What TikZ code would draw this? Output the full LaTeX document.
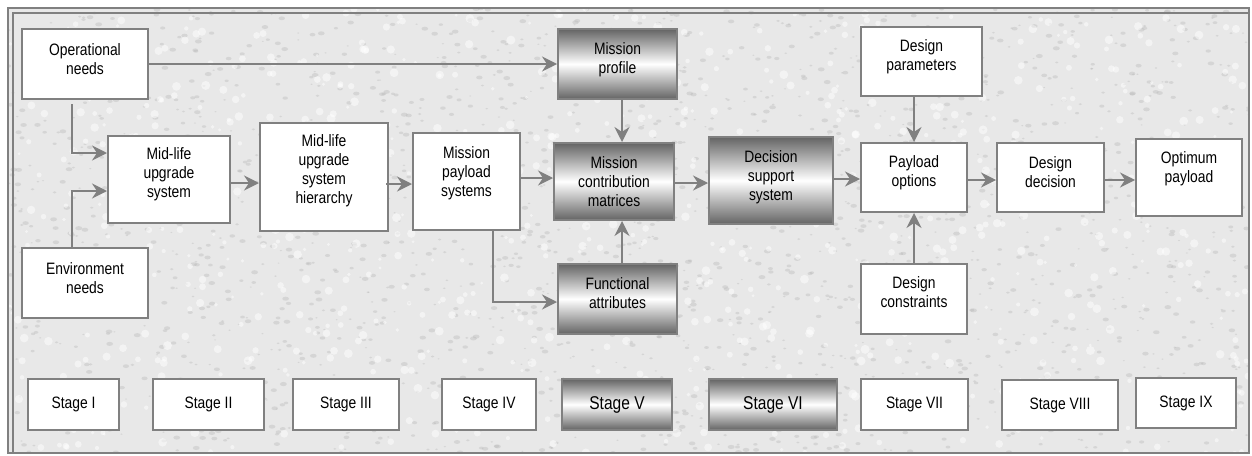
\documentclass[tikz,border=0pt]{standalone}
\usepackage{fontspec}
\setmainfont{Liberation Sans}[FakeStretch=0.84]
\usetikzlibrary{arrows.meta}
\definecolor{ln}{RGB}{128,128,128}
\definecolor{bg}{RGB}{232,232,232}
\definecolor{speck}{RGB}{180,180,180}
\definecolor{shd}{RGB}{100,100,100}
\begin{document}
\begin{tikzpicture}[x=1pt,y=-1pt,
  box/.style={draw=ln, line width=2pt, fill=white, rectangle, inner sep=0pt},
  sbox/.style={draw=ln, line width=2pt, rectangle, inner sep=0pt, top color=shd, bottom color=shd, middle color=white},
  txt/.style={align=center, font=\fontsize{16.5}{19}\selectfont, inner sep=0pt},
  stxt/.style={font=\fontsize{16.5}{19}\selectfont},
  btxt/.style={font=\fontsize{18.5}{21}\selectfont},
  arr/.style={draw=ln, line width=2pt, -{Stealth[length=15pt,width=15pt,inset=5pt]}},
  frame/.style={draw=ln}]
\useasboundingbox (0,0) rectangle (1252,455);
\fill[white] (0,0) rectangle (1252,455);
\fill[bg] (8,8) rectangle (1249,453);
% paper texture
\pgfmathsetseed{7}
\begin{scope}
\clip (8,8) rectangle (1249,453);
\foreach \i in {1,...,2200}{
  \pgfmathsetmacro{\px}{8+1241*rnd}
  \pgfmathsetmacro{\py}{8+445*rnd}
  \pgfmathsetmacro{\pr}{1+2.5*rnd}
  \fill[speck, opacity=0.35] (\px,\py) ellipse [x radius=\pr, y radius=0.6*\pr];
}
\foreach \i in {1,...,900}{
  \pgfmathsetmacro{\px}{8+1241*rnd}
  \pgfmathsetmacro{\py}{8+445*rnd}
  \pgfmathsetmacro{\pr}{1.5+3*rnd}
  \fill[white, opacity=0.5] (\px,\py) circle [radius=\pr];
}
\end{scope}
\draw[frame, line width=2.5pt] (8,8) rectangle (1249,453);
\draw[frame, line width=1.5pt] (13,453) -- (13,13) -- (1249,13);

% boxes
\node[box, minimum width=126pt, minimum height=70pt] (op) at (85,64) {};
\node[box, minimum width=126pt, minimum height=70pt] (en) at (85,283) {};
\node[box, minimum width=122pt, minimum height=87pt] (mu) at (169,179.5) {};
\node[box, minimum width=128pt, minimum height=108pt] (hi) at (324,177) {};
\node[box, minimum width=107pt, minimum height=97pt] (ps) at (466.5,181.5) {};
\node[sbox, minimum width=119pt, minimum height=70pt] (mp) at (617.5,64) {};
\node[sbox, minimum width=120pt, minimum height=77pt] (cm) at (614,181.5) {};
\node[sbox, minimum width=124pt, minimum height=87pt] (ds) at (771,180.5) {};
\node[sbox, minimum width=119pt, minimum height=70pt] (fa) at (617.5,299) {};
\node[box, minimum width=121pt, minimum height=69pt] (dp) at (921.5,61.5) {};
\node[box, minimum width=106pt, minimum height=69pt] (po) at (914,177.5) {};
\node[box, minimum width=107pt, minimum height=69pt] (dd) at (1050.5,177.5) {};
\node[box, minimum width=106pt, minimum height=77pt] (ot) at (1189,177.5) {};
\node[box, minimum width=106pt, minimum height=70pt] (dc) at (914,299) {};

% texts
\node[txt] (opT) at ([yshift=4.5pt]op.center) {Operational\\needs};
\node[txt] (enT) at ([yshift=5pt]en.center) {Environment\\needs};
\node[txt] (muT) at ([yshift=5pt]mu.center) {Mid-life\\upgrade\\system};
\node[txt] (hiT) at ([yshift=6pt]hi.center) {Mid-life\\upgrade\\system\\hierarchy};
\node[txt] (psT) at ([yshift=8pt]ps.center) {Mission\\payload\\systems};
\node[txt] (mpT) at ([yshift=4.5pt]mp.center) {Mission\\profile};
\node[txt] (cmT) at ([yshift=0pt]cm.center) {Mission\\contribution\\matrices};
\node[txt] (dsT) at ([yshift=3.5pt]ds.center) {Decision\\support\\system};
\node[txt] (faT) at ([yshift=6pt]fa.center) {Functional\\attributes};
\node[txt] (dpT) at ([yshift=5pt]dp.center) {Design\\parameters};
\node[txt] (poT) at ([yshift=4.5pt]po.center) {Payload\\options};
\node[txt] (ddT) at ([yshift=5pt]dd.center) {Design\\decision};
\node[txt] (otT) at ([yshift=9pt]ot.center) {Optimum\\payload};
\node[txt] (dcT) at ([yshift=7pt]dc.center) {Design\\constraints};

% stages
\node[box, stxt, minimum width=91pt, minimum height=51pt] (s1) at (73.5,404.5) {Stage I};
\node[box, stxt, minimum width=111pt, minimum height=51pt] (s2) at (208.5,404.5) {Stage II};
\node[box, stxt, minimum width=106pt, minimum height=51pt] (s3) at (346,404.5) {Stage III};
\node[box, stxt, minimum width=94pt, minimum height=51pt] (s4) at (489,404.5) {Stage IV};
\node[sbox, btxt, minimum width=110pt, minimum height=51pt] (s5) at (617,404.5) {Stage V};
\node[sbox, btxt, minimum width=128pt, minimum height=51pt] (s6) at (773,404.5) {Stage VI};
\node[box, stxt, minimum width=107pt, minimum height=51pt] (s7) at (914.5,404.5) {Stage VII};
\node[box, stxt, minimum width=116pt, minimum height=50pt] (s8) at (1060,405) {Stage VIII};
\node[box, stxt, minimum width=100pt, minimum height=50pt] (s9) at (1186,403) {Stage IX};

% connectors
\draw[arr] (op.east) -- (mp.west);
\draw[arr] ([xshift=-13pt,yshift=-4pt]op.south) |- ([yshift=26.5pt]mu.west);
\draw[arr] ([xshift=-13pt]en.north) |- ([yshift=-11.5pt]mu.west);
\draw[arr] ([yshift=-3.5pt]mu.east) -- ([yshift=-3.5pt]mu.east -| hi.west);
\draw[arr] ([yshift=-7pt,xshift=-3pt]hi.east) -- ([yshift=-7pt]hi.east -| ps.west);
\draw[arr] ([yshift=3.5pt]ps.east) -- ([yshift=3.5pt]ps.east -| cm.west);
\draw[arr] ([xshift=26.5pt]ps.south) |- ([yshift=-3pt]fa.west);
\draw[arr] ([xshift=4.5pt]mp.south) -- ([xshift=4.5pt]mp.south |- cm.north);
\draw[arr] ([xshift=4.5pt]fa.north) -- ([xshift=4.5pt]fa.north |- cm.south);
\draw[arr] ([yshift=-1.5pt]cm.east) -- ([yshift=-1.5pt]cm.east -| ds.west);
\draw[arr] ([yshift=1.5pt]ds.east) -- ([yshift=1.5pt]ds.east -| po.west);
\draw[arr] (dp.south -| po.north) -- (po.north);
\draw[arr] (dc.north) -- (po.south);
\draw[arr] ([yshift=-2.5pt]po.east) -- ([yshift=-2.5pt]po.east -| dd.west);
\draw[arr] ([yshift=-2.5pt]dd.east) -- ([yshift=-2.5pt]dd.east -| ot.west);
\end{tikzpicture}
\end{document}
